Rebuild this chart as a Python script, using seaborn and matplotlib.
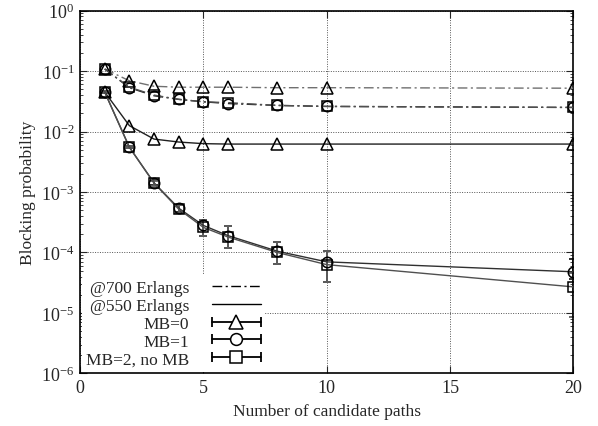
import numpy as np
import pandas as pd
import matplotlib
matplotlib.use("Agg")
import matplotlib.pyplot as plt
import seaborn as sns
from matplotlib.lines import Line2D
from matplotlib.legend_handler import HandlerLine2D, HandlerTuple
from matplotlib.ticker import LogLocator, FixedLocator, NullFormatter

# ---------------- data ----------------
paths = [1, 2, 3, 4, 5, 6, 8, 10, 20]

b700_mb0 = [0.108, 0.069, 0.056, 0.054, 0.054, 0.054, 0.053, 0.053, 0.052]
b700_mb1 = [0.108, 0.053, 0.039, 0.034, 0.031, 0.029, 0.027, 0.026, 0.025]
b700_mb2 = [0.108, 0.054, 0.040, 0.034, 0.031, 0.030, 0.027, 0.026, 0.025]

b550_mb0 = [0.045, 0.0125, 0.0075, 0.0067, 0.0063, 0.0062, 0.0062, 0.0062, 0.0062]
b550_mb1 = [0.045, 0.0055, 0.00142, 0.00054, 0.00028, 0.00019, 0.000105, 0.000070, 0.000048]
b550_mb2 = [0.045, 0.0055, 0.00140, 0.00052, 0.00026, 0.00018, 0.000100, 0.000063, 0.000027]

# confidence interval bounds (550 Erlangs, MB=1 and MB=2)
lo550_mb1 = [0.044, 0.0053, 0.00130, 0.00047, 0.00019, 0.00012, 0.000065, 0.000032, 0.000036]
hi550_mb1 = [0.046, 0.0057, 0.00155, 0.00062, 0.00035, 0.000275, 0.000150, 0.000107, 0.000078]
lo550_mb2 = [0.044, 0.0053, 0.00128, 0.00045, 0.00019, 0.00012, 0.000065, 0.000032, 0.0000085]
hi550_mb2 = [0.046, 0.0057, 0.00153, 0.00060, 0.00034, 0.00027, 0.000148, 0.000105, 0.000045]

legend_labels = ["@700 Erlangs", "@550 Erlangs", "MB=0", "MB=1", "MB=2, no MB"]
xticks = [0, 5, 10, 15, 20]

# ---------------- style ----------------
sns.set_style("ticks")
plt.rcParams["font.family"] = ["Liberation Serif", "DejaVu Serif"]
plt.rcParams["mathtext.fontset"] = "stix"
plt.rcParams["xtick.direction"] = "in"
plt.rcParams["ytick.direction"] = "in"

fig = plt.figure(figsize=(5.98, 4.27), dpi=100)
ax = fig.add_axes([0.1338, 0.123, 0.959 - 0.1338, 0.973 - 0.123])

rows = []
for load, mb, vals in [("700", "0", b700_mb0), ("700", "1", b700_mb1), ("700", "2", b700_mb2),
                       ("550", "0", b550_mb0), ("550", "1", b550_mb1), ("550", "2", b550_mb2)]:
    for p, v in zip(paths, vals):
        rows.append({"paths": p, "blocking": v, "load": load, "mb": mb})
df = pd.DataFrame(rows)

markers = {"0": "^", "1": "o", "2": "s"}
msizes = {"0": 9, "1": 7.5, "2": 7.5}
colors = {("700", "0"): "#707070", ("700", "1"): "#202020", ("700", "2"): "#505050",
          ("550", "0"): "#202020", ("550", "1"): "#303030", ("550", "2"): "#505050"}

for (load, mb), sub in df.groupby(["load", "mb"]):
    ls = (0, (7, 2.5, 1.5, 2.5)) if load == "700" else "-"
    sns.lineplot(data=sub, x="paths", y="blocking", ax=ax, color=colors[(load, mb)],
                 linestyle=ls, linewidth=1.0, marker=markers[mb], markersize=msizes[mb],
                 markerfacecolor="none", markeredgecolor="black", markeredgewidth=1.1,
                 legend=False, zorder=3)

# error bars
for vals, lo, hi, col in [(b550_mb1, lo550_mb1, hi550_mb1, "#202020"),
                          (b550_mb2, lo550_mb2, hi550_mb2, "#606060")]:
    v = np.array(vals); l = np.array(lo); h = np.array(hi)
    ax.errorbar(paths, v, yerr=[v - l, h - v], fmt="none", ecolor=col,
                elinewidth=1.3, capsize=3, capthick=1.3, zorder=2)

ax.set_yscale("log")
ax.set_xlim(0, 20)
ax.set_ylim(1e-6, 1)
ax.xaxis.set_major_locator(FixedLocator(xticks))
ax.yaxis.set_major_locator(LogLocator(base=10, numticks=10))
ax.yaxis.set_minor_locator(LogLocator(base=10, subs=np.arange(2, 10), numticks=20))
ax.yaxis.set_minor_formatter(NullFormatter())
ax.tick_params(which="both", top=True, right=True, labelsize=13)
ax.tick_params(which="major", length=5, width=0.8)
ax.tick_params(which="minor", length=2.5, width=0.6)
ax.tick_params(axis="x", pad=4)
ax.tick_params(axis="y", pad=4)

ax.grid(True, which="major", linestyle=(0, (1, 1.5)), color="#555555", linewidth=0.7)
for s in ax.spines.values():
    s.set_linewidth(1.2)
    s.set_color("black")

ax.set_xlabel("Number of candidate paths", fontsize=12.5, labelpad=5)
ax.set_ylabel("Blocking probability", fontsize=12.5, labelpad=4)

# legend
h700 = Line2D([], [], color="black", linestyle=(0, (7, 2.5, 1.5, 2.5)), linewidth=1.0)
h550 = Line2D([], [], color="black", linestyle="-", linewidth=1.0)
handles = [h700, h550]
hmap = {}
for mb in ["0", "1", "2"]:
    cap = Line2D([], [], color="black", linestyle="-", linewidth=1.3, marker="|",
                 markersize=7, markeredgewidth=1.3)
    mk = Line2D([], [], color="none", marker=markers[mb], markersize=msizes[mb] + 1,
                markerfacecolor="white", markeredgecolor="black", markeredgewidth=1.1,
                linestyle="none")
    hmap[cap] = HandlerLine2D(numpoints=2, marker_pad=0)
    handles.append((cap, mk))
hmap[tuple] = HandlerTuple(ndivide=1, pad=0)
leg = ax.legend(handles, legend_labels, handler_map=hmap, loc="lower left",
                bbox_to_anchor=(0.0, 0.0), markerfirst=False, frameon=True,
                fontsize=12.5, handlelength=2.8, handletextpad=1.3,
                labelspacing=0.1, borderpad=0.25, borderaxespad=0.1)
leg.get_frame().set_facecolor("white")
leg.get_frame().set_edgecolor("none")
leg.get_frame().set_alpha(1)
leg.set_zorder(5)

fig.savefig("out.png", dpi=100)
